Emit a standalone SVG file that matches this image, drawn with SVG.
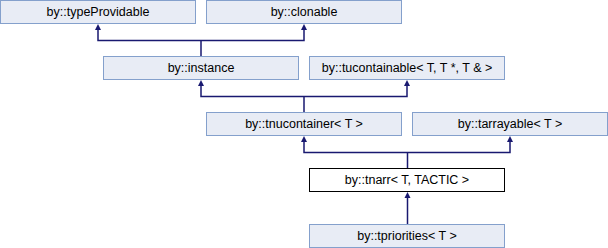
<svg xmlns="http://www.w3.org/2000/svg" width="608" height="248" viewBox="0 0 608 248">
<style>
.n rect{fill:#e8ecf5;stroke:#84a0cc;stroke-width:1}
.cur rect{fill:#ffffff;stroke:#000000;stroke-width:1}
text{font-family:"Liberation Sans",Arial,sans-serif;font-size:12.5px;fill:#000;text-anchor:middle}
.e{fill:none;stroke:#191970;stroke-width:1.5}
.a{fill:#191970}
</style>
<rect width="608" height="248" fill="#ffffff"/>
<g id="connectors">
<path class="e" d="M98,29V40.5H304V29M201,40.5V56"/>
<polygon class="a" points="98,24 101,30 95,30"/>
<polygon class="a" points="304,24 307,30 301,30"/>
<path class="e" d="M201,85V96.5H407V85M304,96.5V112"/>
<polygon class="a" points="201,80 204,86 198,86"/>
<polygon class="a" points="407,80 410,86 404,86"/>
<path class="e" d="M304,141V152.5H510V141M407.5,152.5V168"/>
<polygon class="a" points="304,136 307,142 301,142"/>
<polygon class="a" points="510,136 513,142 507,142"/>
<path class="e" d="M407.5,197V224"/>
<polygon class="a" points="407.5,192 410.5,198 404.5,198"/>
</g>
<g id="typeProvidable" class="n"><rect x="0.5" y="0.5" width="195" height="23"/><text x="98" y="16">by::typeProvidable</text></g>
<g id="clonable" class="n"><rect x="206.5" y="0.5" width="195" height="23"/><text x="304" y="16">by::clonable</text></g>
<g id="instance" class="n"><rect x="103.5" y="56.5" width="195" height="23"/><text x="201" y="72">by::instance</text></g>
<g id="tucontainable" class="n"><rect x="309.5" y="56.5" width="195" height="23"/><text x="407" y="72">by::tucontainable&lt; T, T *, T &amp; &gt;</text></g>
<g id="tnucontainer" class="n"><rect x="206.5" y="112.5" width="195" height="23"/><text x="304" y="128">by::tnucontainer&lt; T &gt;</text></g>
<g id="tarrayable" class="n"><rect x="412.5" y="112.5" width="195" height="23"/><text x="510" y="128">by::tarrayable&lt; T &gt;</text></g>
<g id="tnarr" class="cur"><rect x="309.5" y="168.5" width="195" height="23"/><text x="407" y="184">by::tnarr&lt; T, TACTIC &gt;</text></g>
<g id="tpriorities" class="n"><rect x="309.5" y="224.5" width="195" height="23"/><text x="407" y="240">by::tpriorities&lt; T &gt;</text></g>
</svg>
